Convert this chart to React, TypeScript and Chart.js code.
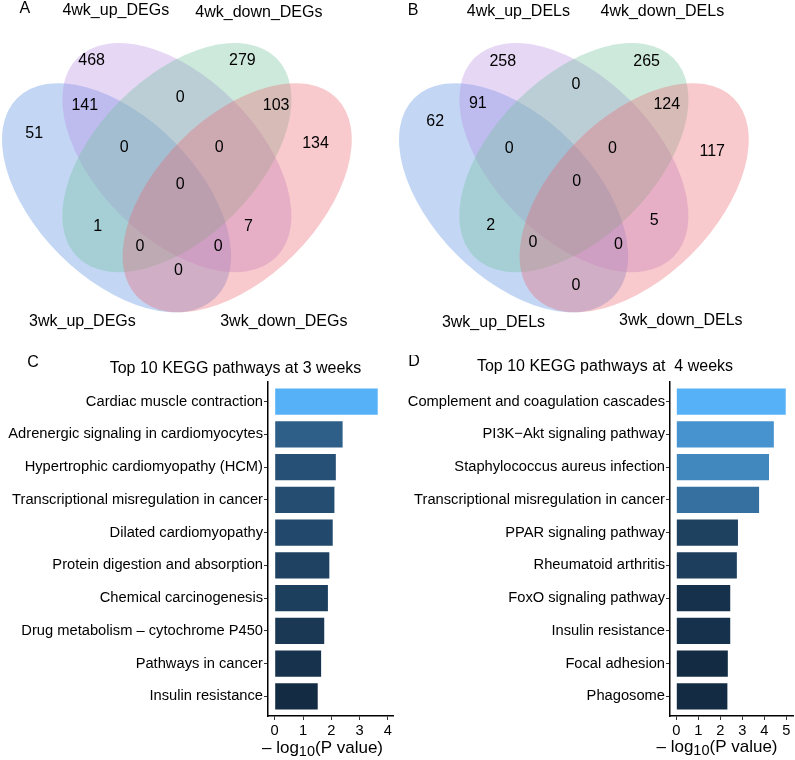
import React, { useEffect, useRef } from "react";
import { Chart, registerables } from "chart.js";
Chart.register(...registerables);

const FONT = '"Liberation Sans", Arial, Helvetica, sans-serif';

// ---------- DATA ----------
// Venn A (DEGs) – region counts (order: 4wk_up only, 4wk_down only, 3up∩4up, 4up∩4down, 4down∩3down,
// 3up only, left triple, right triple, 3down only, all four, 3up∩4down, 4up∩3down, lower-left triple, lower-right triple, 3up∩3down)
const vennASets = ["4wk_up_DEGs", "4wk_down_DEGs", "3wk_up_DEGs", "3wk_down_DEGs"];
const vennACounts = [468, 279, 141, 0, 103, 51, 0, 0, 134, 0, 1, 7, 0, 0, 0];
// Venn B (DELs)
const vennBSets = ["4wk_up_DELs", "4wk_down_DELs", "3wk_up_DELs", "3wk_down_DELs"];
const vennBCounts = [258, 265, 91, 0, 124, 62, 0, 0, 117, 0, 2, 5, 0, 0, 0];

// KEGG 3 weeks
const kegg3Pathways = [
  "Cardiac muscle contraction",
  "Adrenergic signaling in cardiomyocytes",
  "Hypertrophic cardiomyopathy (HCM)",
  "Transcriptional misregulation in cancer",
  "Dilated cardiomyopathy",
  "Protein digestion and absorption",
  "Chemical carcinogenesis",
  "Drug metabolism \u2013 cytochrome P450",
  "Pathways in cancer",
  "Insulin resistance",
];
const kegg3Values = [3.64, 2.4, 2.16, 2.11, 2.05, 1.93, 1.88, 1.75, 1.64, 1.52];
const kegg3Ticks = [0, 1, 2, 3, 4];

// KEGG 4 weeks
const kegg4Pathways = [
  "Complement and coagulation cascades",
  "PI3K\u2212Akt signaling pathway",
  "Staphylococcus aureus infection",
  "Transcriptional misregulation in cancer",
  "PPAR signaling pathway",
  "Rheumatoid arthritis",
  "FoxO signaling pathway",
  "Insulin resistance",
  "Focal adhesion",
  "Phagosome",
];
const kegg4Values = [4.97, 4.43, 4.21, 3.76, 2.8, 2.75, 2.45, 2.45, 2.34, 2.32];
const kegg4Ticks = [0, 1, 2, 3, 4, 5];

// ---------- LAYOUT (unit coordinates of the Venn drawing) ----------
const ELLIPSES = [
  { cx: 0.35, cy: 0.47, rot: Math.PI / 4, color: "rgba(84,141,226,0.35)" }, // 3wk_up (blue)
  { cx: 0.5, cy: 0.57, rot: Math.PI / 4, color: "rgba(184,141,226,0.35)" }, // 4wk_up (purple)
  { cx: 0.5, cy: 0.57, rot: -Math.PI / 4, color: "rgba(112,192,155,0.35)" }, // 4wk_down (green)
  { cx: 0.65, cy: 0.47, rot: -Math.PI / 4, color: "rgba(235,104,112,0.35)" }, // 3wk_down (red)
];
const ELL_A = 0.35;
const ELL_B = 0.2;

const vennARegionPos = [
  [0.288, 0.811], [0.663, 0.811], [0.271, 0.699], [0.508, 0.719], [0.747, 0.699],
  [0.145, 0.63], [0.369, 0.596], [0.605, 0.596], [0.845, 0.604], [0.508, 0.504],
  [0.303, 0.398], [0.678, 0.398], [0.408, 0.348], [0.603, 0.348], [0.504, 0.29],
];
const vennALabelPos = [[0.348, 0.935], [0.704, 0.931], [0.265, 0.162], [0.766, 0.162]];
const vennALetterPos = [0.122, 0.941];

const vennBRegionPos = [
  [0.323, 0.81], [0.681, 0.808], [0.261, 0.705], [0.505, 0.752], [0.731, 0.703],
  [0.155, 0.659], [0.339, 0.593], [0.596, 0.593], [0.844, 0.585], [0.507, 0.51],
  [0.293, 0.402], [0.7, 0.413], [0.398, 0.359], [0.611, 0.353], [0.505, 0.251],
];
const vennBLabelPos = [[0.362, 0.932], [0.72, 0.932], [0.3, 0.159], [0.766, 0.164]];
const vennBLetterPos = [0.1, 0.935];

// ---------- colour gradient (ggplot default, Lab interpolation) ----------
const LOW = [0x13, 0x2b, 0x43];
const HIGH = [0x56, 0xb1, 0xf7];
function toLin(c: number) { c /= 255; return c <= 0.04045 ? c / 12.92 : Math.pow((c + 0.055) / 1.055, 2.4); }
function fromLin(c: number) { const v = c <= 0.0031308 ? 12.92 * c : 1.055 * Math.pow(c, 1 / 2.4) - 0.055; return Math.round(Math.max(0, Math.min(1, v)) * 255); }
function f(t: number) { return t > 0.008856 ? Math.cbrt(t) : 7.787 * t + 16 / 116; }
function finv(t: number) { return t > 0.206893 ? t * t * t : (t - 16 / 116) / 7.787; }
function rgb2lab(c: number[]) {
  const R = toLin(c[0]), G = toLin(c[1]), B = toLin(c[2]);
  const X = (0.4124 * R + 0.3576 * G + 0.1805 * B) / 0.95047;
  const Y = 0.2126 * R + 0.7152 * G + 0.0722 * B;
  const Z = (0.0193 * R + 0.1192 * G + 0.9505 * B) / 1.08883;
  const fx = f(X), fy = f(Y), fz = f(Z);
  return [116 * fy - 16, 500 * (fx - fy), 200 * (fy - fz)];
}
function lab2rgb(l: number[]) {
  const fy = (l[0] + 16) / 116, fx = fy + l[1] / 500, fz = fy - l[2] / 200;
  const X = finv(fx) * 0.95047, Y = finv(fy), Z = finv(fz) * 1.08883;
  const R = 3.2406 * X - 1.5372 * Y - 0.4986 * Z;
  const G = -0.9689 * X + 1.8758 * Y + 0.0415 * Z;
  const B = 0.0557 * X - 0.204 * Y + 1.057 * Z;
  return [fromLin(R), fromLin(G), fromLin(B)];
}
const LAB_LOW = rgb2lab(LOW), LAB_HIGH = rgb2lab(HIGH);
function grad(t: number) {
  const l = LAB_LOW.map((v, i) => v + (LAB_HIGH[i] - v) * t);
  const c = lab2rgb(l);
  return `rgb(${c[0]},${c[1]},${c[2]})`;
}

// ---------- Venn chart ----------
function makeVennConfig(counts: number[], sets: string[], letter: string, regionPos: number[][], labelPos: number[][], letterPos: number[], xMin: number, xMax: number) {
  const plugin = {
    id: "vennDraw",
    beforeDatasetsDraw(chart: any) {
      const { ctx } = chart;
      const xs = chart.scales.x, ys = chart.scales.y;
      const k = xs.getPixelForValue(1) - xs.getPixelForValue(0);
      ctx.save();
      for (const e of ELLIPSES) {
        ctx.beginPath();
        ctx.ellipse(xs.getPixelForValue(e.cx), ys.getPixelForValue(e.cy), ELL_A * k, ELL_B * k, e.rot, 0, Math.PI * 2);
        ctx.fillStyle = e.color;
        ctx.fill();
      }
      ctx.restore();
    },
    afterDatasetsDraw(chart: any) {
      const ctx = chart.ctx;
      ctx.save();
      ctx.fillStyle = "#000";
      ctx.font = `16px ${FONT}`;
      ctx.textAlign = "center";
      ctx.textBaseline = "middle";
      chart.getDatasetMeta(0).data.forEach((pt: any, i: number) => ctx.fillText(String(counts[i]), pt.x, pt.y));
      chart.getDatasetMeta(1).data.forEach((pt: any, i: number) => ctx.fillText(sets[i], pt.x, pt.y));
      const lm = chart.getDatasetMeta(2).data[0];
      ctx.fillText(letter, lm.x, lm.y);
      ctx.restore();
    },
  };
  return {
    type: "scatter",
    data: {
      datasets: [
        { data: regionPos.map((p) => ({ x: p[0], y: p[1] })), pointRadius: 0 },
        { data: labelPos.map((p) => ({ x: p[0], y: p[1] })), pointRadius: 0 },
        { data: [{ x: letterPos[0], y: letterPos[1] }], pointRadius: 0 },
      ],
    },
    options: {
      animation: false,
      responsive: false,
      layout: { padding: 0 },
      plugins: { legend: { display: false }, tooltip: { enabled: false } },
      scales: {
        x: { type: "linear", display: false, min: xMin, max: xMax },
        y: { type: "linear", display: false, min: 0.1162, max: 0.962 },
      },
    },
    plugins: [plugin],
  };
}

// ---------- Bar chart ----------
interface BarOpts {
  labels: string[]; values: number[]; ticks: number[];
  xMin: number; xMax: number; yAxisWidth: number; padRight: number;
  title: string; titleX: number; titleY: number;
  letter: string; letterX: number; letterY: number;
  axisTitleX: number; axisTitleY: number;
}
function makeBarConfig(o: BarOpts) {
  const mn = Math.min(...o.values), mx = Math.max(...o.values);
  const textPlugin = {
    id: "barText",
    afterDraw(chart: any) {
      const ctx = chart.ctx;
      ctx.save();
      ctx.fillStyle = "#000";
      ctx.textBaseline = "middle";
      ctx.font = `16px ${FONT}`;
      ctx.textAlign = "center";
      ctx.fillText(o.title, o.titleX, o.titleY);
      ctx.fillText(o.letter, o.letterX, o.letterY);
      // axis title: – log10(P value) with subscript
      const mainF = `17px ${FONT}`, subF = `14.5px ${FONT}`;
      const p1 = "\u2013 log", p2 = "10", p3 = "(P value)";
      ctx.font = mainF; const w1 = ctx.measureText(p1).width; const w3 = ctx.measureText(p3).width;
      ctx.font = subF; const w2 = ctx.measureText(p2).width;
      let x = o.axisTitleX - (w1 + w2 + w3) / 2;
      ctx.textAlign = "left";
      ctx.font = mainF; ctx.fillText(p1, x, o.axisTitleY); x += w1;
      ctx.font = subF; ctx.fillText(p2, x, o.axisTitleY + 4); x += w2;
      ctx.font = mainF; ctx.fillText(p3, x, o.axisTitleY);
      ctx.restore();
    },
  };
  return {
    type: "bar",
    data: {
      datasets: [
        {
          data: o.values.map((v, i) => ({ x: v, y: i })),
          backgroundColor: o.values.map((v) => grad((v - mn) / (mx - mn))),
          borderWidth: 0,
          barPercentage: 0.8,
          categoryPercentage: 1,
        },
      ],
    },
    options: {
      indexAxis: "y",
      animation: false,
      responsive: false,
      layout: { padding: { top: 27, right: o.padRight, bottom: 0, left: 0 } },
      plugins: { legend: { display: false }, tooltip: { enabled: false } },
      scales: {
        y: {
          type: "linear",
          reverse: true,
          offset: false,
          min: -0.6,
          max: o.labels.length - 1 + 0.6,
          afterBuildTicks: (s: any) => { s.ticks = o.labels.map((_, i) => ({ value: i })); },
          afterFit: (s: any) => { s.width = o.yAxisWidth; },
          ticks: {
            callback: (v: any) => o.labels[v],
            font: { family: FONT, size: 14.7 },
            color: "#000",
            padding: 1,
            autoSkip: false,
            includeBounds: false,
          },
          grid: { offset: false, drawOnChartArea: false, drawTicks: true, tickLength: 4, tickColor: "#333", tickWidth: 1 },
          border: { display: true, color: "#000", width: 1.5 },
        },
        x: {
          type: "linear",
          offset: false,
          min: o.xMin,
          max: o.xMax,
          afterBuildTicks: (s: any) => { s.ticks = o.ticks.map((v) => ({ value: v })); },
          afterFit: (s: any) => { s.height = 44; },
          ticks: { font: { family: FONT, size: 14.7 }, color: "#000", padding: 2, maxRotation: 0, autoSkip: false, includeBounds: false },
          grid: { offset: false, drawOnChartArea: false, drawTicks: true, tickLength: 4, tickColor: "#333", tickWidth: 1 },
          border: { display: true, color: "#000", width: 1.5 },
        },
      },
    },
    plugins: [textPlugin],
  };
}

function ChartCanvas({ config, left, top, width, height }: { config: () => any; left: number; top: number; width: number; height: number }) {
  const ref = useRef<HTMLCanvasElement>(null);
  useEffect(() => {
    const chart = new Chart(ref.current as HTMLCanvasElement, config());
    return () => chart.destroy();
  }, []);
  return (
    <canvas
      ref={ref}
      width={width}
      height={height}
      style={{ position: "absolute", left, top, width, height }}
    />
  );
}

export default function App() {
  return (
    <div style={{ position: "fixed", left: 0, top: 0, width: 795, height: 760, background: "#fff", overflow: "hidden" }}>
      <ChartCanvas
        left={0} top={0} width={397} height={340}
        config={() => makeVennConfig(vennACounts, vennASets, "A", vennARegionPos, vennALabelPos, vennALetterPos, 0.06, 0.06 + 397 / 402)}
      />
      <ChartCanvas
        left={397} top={0} width={398} height={340}
        config={() => makeVennConfig(vennBCounts, vennBSets, "B", vennBRegionPos, vennBLabelPos, vennBLetterPos, 0.06, 0.06 + 398 / 402)}
      />
      <ChartCanvas
        left={0} top={355} width={397} height={405}
        config={() =>
          makeBarConfig({
            labels: kegg3Pathways, values: kegg3Values, ticks: kegg3Ticks,
            xMin: -0.237, xMax: 4.18, yAxisWidth: 268, padRight: 4,
            title: "Top 10 KEGG pathways at 3 weeks", titleX: 235.5, titleY: 14,
            letter: "C", letterX: 33, letterY: 8,
            axisTitleX: 322.5, axisTitleY: 393,
          })
        }
      />
      <ChartCanvas
        left={397} top={355} width={398} height={405}
        config={() =>
          makeBarConfig({
            labels: kegg4Pathways, values: kegg4Values, ticks: kegg4Ticks,
            xMin: -0.286, xMax: 5.3, yAxisWidth: 273, padRight: 2,
            title: "Top 10 KEGG pathways at  4 weeks", titleX: 208, titleY: 12,
            letter: "D", letterX: 17, letterY: 7,
            axisTitleX: 320, axisTitleY: 392,
          })
        }
      />
    </div>
  );
}
